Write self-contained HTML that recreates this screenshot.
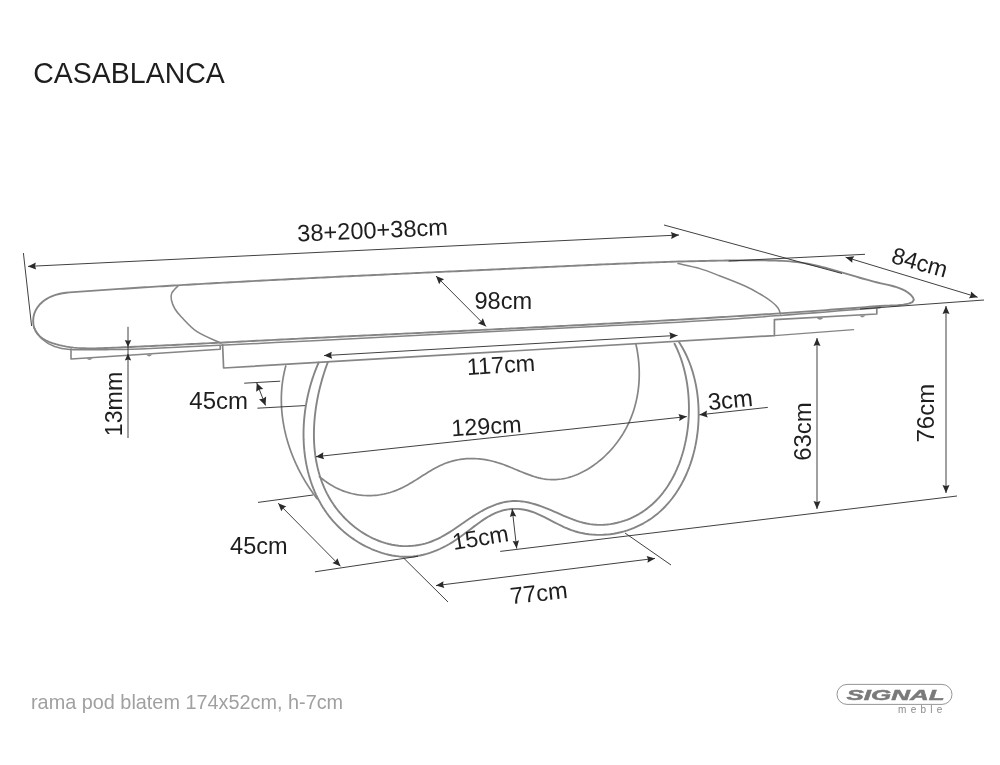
<!DOCTYPE html>
<html><head><meta charset="utf-8"><style>
html,body{margin:0;padding:0;background:#fff;}
svg{display:block;font-family:"Liberation Sans",sans-serif;will-change:transform;}
</style></head><body>
<svg width="1000" height="765" viewBox="0 0 1000 765">
<rect width="1000" height="765" fill="#fff"/>
<path d="M880.01,305.96 L876.43,306.25 L872.85,306.54 L869.27,306.82 L865.70,307.10 L862.12,307.38 L858.54,307.66 L854.96,307.93 L851.38,308.21 L847.81,308.48 L844.23,308.75 L840.65,309.02 L837.07,309.29 L833.49,309.55 L829.91,309.82 L826.33,310.08 L822.75,310.34 L819.17,310.60 L815.59,310.86 L812.01,311.12 L808.43,311.37 L804.85,311.62 L801.27,311.88 L797.69,312.13 L794.11,312.37 L790.53,312.62 L786.95,312.87 L783.37,313.11 L779.79,313.36 L776.21,313.60 L772.63,313.84 L769.05,314.08 L765.47,314.31 L761.89,314.55 L758.30,314.79 L754.72,315.02 L751.14,315.25 L747.56,315.48 L743.98,315.71 L740.40,315.94 L736.81,316.17 L733.23,316.39 L729.65,316.62 L726.07,316.84 L722.48,317.06 L718.90,317.29 L715.32,317.51 L711.74,317.72 L708.15,317.94 L704.57,318.16 L700.99,318.37 L697.40,318.59 L693.82,318.80 L690.24,319.01 L686.66,319.22 L683.07,319.43 L679.49,319.64 L675.91,319.85 L672.32,320.06 L668.74,320.26 L665.15,320.47 L661.57,320.67 L657.99,320.87 L654.40,321.08 L650.82,321.28 L647.23,321.48 L643.65,321.68 L640.07,321.87 L636.48,322.07 L632.90,322.27 L629.31,322.46 L625.73,322.66 L622.15,322.85 L618.56,323.05 L614.98,323.24 L611.39,323.43 L607.81,323.62 L604.22,323.81 L600.64,324.00 L597.05,324.19 L593.47,324.38 L589.88,324.56 L586.30,324.75 L582.71,324.94 L579.13,325.12 L575.54,325.31 L571.96,325.49 L568.37,325.67 L564.79,325.86 L561.20,326.04 L557.62,326.22 L554.03,326.40 L550.45,326.58 L546.86,326.76 L543.28,326.94 L539.69,327.12 L536.11,327.30 L532.52,327.48 L528.94,327.65 L525.35,327.83 L521.76,328.01 L518.18,328.18 L514.59,328.36 L511.01,328.53 L507.42,328.71 L503.84,328.88 L500.25,329.06 L496.67,329.23 L493.08,329.40 L489.50,329.58 L485.91,329.75 L482.32,329.92 L478.74,330.10 L475.15,330.27 L471.57,330.44 L467.98,330.61 L464.40,330.78 L460.81,330.95 L457.23,331.12 L453.64,331.29 L450.06,331.47 L446.47,331.64 L442.88,331.81 L439.30,331.98 L435.71,332.15 L432.13,332.32 L428.54,332.49 L424.96,332.66 L421.37,332.83 L417.79,333.00 L414.20,333.16 L410.62,333.33 L407.03,333.50 L403.45,333.67 L399.86,333.84 L396.28,334.01 L392.69,334.18 L389.11,334.35 L385.52,334.52 L381.94,334.69 L378.35,334.86 L374.77,335.03 L371.18,335.20 L367.60,335.37 L364.01,335.54 L360.43,335.72 L356.84,335.89 L353.26,336.06 L349.67,336.23 L346.09,336.40 L342.50,336.57 L338.92,336.74 L335.34,336.92 L331.75,337.09 L328.17,337.26 L324.58,337.44 L321.00,337.61 L317.41,337.78 L313.83,337.96 L310.25,338.13 L306.66,338.31 L303.08,338.48 L299.49,338.66 L295.91,338.84 L292.33,339.01 L288.74,339.19 L285.16,339.37 L281.58,339.54 L277.99,339.72 L274.41,339.90 L270.83,340.08 L267.24,340.26 L263.66,340.44 L260.08,340.62 L256.49,340.80 L252.91,340.99 L249.33,341.17 L245.74,341.35 L242.16,341.53 L238.58,341.71 L235.00,341.89 L231.41,342.08 L227.83,342.26 L224.24,342.44 L220.66,342.62 L217.08,342.80 L213.49,342.98 L209.91,343.16 L206.33,343.35 L202.74,343.53 L199.16,343.70 L195.57,343.88 L191.99,344.06 L188.40,344.24 L184.82,344.42 L181.23,344.59 L177.64,344.77 L174.06,344.94 L170.47,345.12 L166.88,345.29 L163.30,345.46 L159.71,345.63 L156.12,345.80 L152.53,345.97 L148.94,346.14 L145.35,346.31 L141.76,346.47 L138.17,346.64 L134.58,346.80 L130.99,346.96 L127.40,347.12 L123.81,347.28 L120.22,347.43 L116.62,347.59 L113.03,347.74 L109.44,347.89 L105.84,348.04 L102.25,348.18 L98.66,348.29 L95.06,348.37 L91.47,348.40 L87.89,348.38 L84.30,348.30 L80.73,348.15 L77.15,347.91 L73.58,347.58 L70.02,347.14 L66.46,346.60 L62.92,345.93 L59.38,345.12 L55.84,344.18 L52.34,343.07 L48.91,341.78 L45.65,340.26 L42.62,338.47 L39.89,336.39 L37.53,333.97 L35.62,331.18 L34.23,327.98 L33.41,324.43 L33.15,320.69 L33.48,316.93 L34.39,313.29 L35.88,309.91 L37.85,306.80 L40.23,303.98 L42.94,301.48 L45.90,299.31 L49.02,297.50 L52.26,296.03 L55.58,294.87 L58.98,293.97 L62.45,293.29 L65.96,292.79 L69.52,292.41 L73.10,292.11 L76.69,291.85 L80.28,291.60 L83.86,291.35 L87.45,291.09 L91.04,290.85 L94.63,290.60 L98.22,290.35 L101.81,290.11 L105.39,289.87 L108.98,289.63 L112.57,289.39 L116.15,289.15 L119.74,288.92 L123.32,288.68 L126.91,288.45 L130.49,288.22 L134.08,287.99 L137.66,287.76 L141.25,287.53 L144.83,287.31 L148.42,287.08 L152.00,286.86 L155.59,286.64 L159.17,286.42 L162.75,286.20 L166.34,285.98 L169.92,285.77 L173.50,285.55 L177.09,285.34 L180.67,285.13 L184.25,284.92 L187.83,284.71 L191.42,284.50 L195.00,284.29 L198.58,284.08 L202.16,283.88 L205.75,283.67 L209.33,283.47 L212.91,283.27 L216.49,283.07 L220.07,282.87 L223.66,282.67 L227.24,282.47 L230.82,282.28 L234.40,282.08 L237.99,281.89 L241.57,281.69 L245.15,281.50 L248.73,281.31 L252.31,281.11 L255.90,280.92 L259.48,280.73 L263.06,280.55 L266.64,280.36 L270.23,280.17 L273.81,279.98 L277.39,279.80 L280.98,279.61 L284.56,279.43 L288.14,279.25 L291.73,279.06 L295.31,278.88 L298.89,278.70 L302.48,278.52 L306.06,278.34 L309.65,278.16 L313.23,277.98 L316.81,277.80 L320.40,277.62 L323.98,277.45 L327.57,277.27 L331.15,277.09 L334.74,276.92 L338.32,276.74 L341.91,276.57 L345.49,276.40 L349.08,276.22 L352.66,276.05 L356.25,275.88 L359.83,275.70 L363.42,275.53 L367.00,275.36 L370.59,275.19 L374.17,275.02 L377.76,274.85 L381.34,274.68 L384.93,274.51 L388.52,274.34 L392.10,274.17 L395.69,274.01 L399.27,273.84 L402.86,273.67 L406.45,273.50 L410.03,273.33 L413.62,273.17 L417.20,273.00 L420.79,272.83 L424.38,272.67 L427.96,272.50 L431.55,272.34 L435.13,272.17 L438.72,272.01 L442.31,271.84 L445.89,271.67 L449.48,271.51 L453.06,271.34 L456.65,271.18 L460.24,271.01 L463.82,270.85 L467.41,270.69 L471.00,270.52 L474.58,270.36 L478.17,270.19 L481.75,270.03 L485.34,269.86 L488.93,269.70 L492.51,269.53 L496.10,269.37 L499.68,269.20 L503.27,269.04 L506.86,268.87 L510.44,268.71 L514.03,268.54 L517.61,268.38 L521.20,268.21 L524.79,268.05 L528.37,267.88 L531.96,267.72 L535.54,267.55 L539.13,267.38 L542.71,267.22 L546.30,267.05 L549.88,266.88 L553.47,266.72 L557.06,266.55 L560.64,266.38 L564.23,266.21 L567.81,266.05 L571.40,265.88 L574.98,265.71 L578.57,265.55 L582.15,265.38 L585.74,265.22 L589.32,265.06 L592.91,264.89 L596.49,264.73 L600.08,264.57 L603.66,264.41 L607.25,264.25 L610.83,264.10 L614.42,263.94 L618.00,263.79 L621.59,263.64 L625.17,263.49 L628.76,263.34 L632.35,263.20 L635.93,263.06 L639.52,262.92 L643.10,262.78 L646.69,262.64 L650.28,262.51 L653.86,262.38 L657.45,262.26 L661.04,262.13 L664.62,262.01 L668.21,261.90 L671.80,261.78 L675.38,261.67 L678.97,261.57 L682.56,261.46 L686.15,261.37 L689.73,261.27 L693.32,261.18 L696.91,261.09 L700.50,261.01 L704.09,260.93 L707.68,260.86 L711.27,260.79 L714.86,260.73 L718.45,260.67 L722.04,260.61 L725.63,260.57 L729.22,260.52 L732.81,260.48 L736.40,260.45 L739.99,260.42 L743.58,260.40 L747.18,260.38 L750.77,260.37 L754.36,260.37 L757.95,260.37 L761.55,260.38 L765.14,260.39 L768.73,260.43 L772.32,260.48 L775.91,260.57 L779.49,260.69 L783.06,260.86 L786.62,261.08 L790.18,261.35 L793.72,261.69 L797.25,262.10 L800.77,262.59 L804.28,263.15 L807.78,263.77 L811.27,264.46 L814.75,265.20 L818.22,266.00 L821.68,266.84 L825.15,267.73 L828.61,268.65 L832.06,269.60 L835.52,270.58 L838.98,271.58 L842.44,272.59 L845.90,273.62 L849.36,274.65 L852.84,275.68 L856.31,276.71 L859.80,277.72 L863.30,278.72 L866.80,279.71 L870.32,280.66 L873.85,281.59 L877.40,282.48 L880.96,283.33 L884.53,284.14 L888.10,284.94 L891.65,285.77 L895.13,286.71 L898.52,287.79 L901.79,289.08 L904.92,290.63 L907.87,292.50 L910.61,294.73 L912.90,297.29 L913.86,299.84 L912.50,302.01 L908.63,303.58 L903.29,304.63 L897.61,305.24 L892.74,305.52 L889.82,305.54 L889.99,305.39 Z" fill="none" stroke="#858585" stroke-width="1.9" stroke-linejoin="round" stroke-linecap="round"/>
<path d="M34,327.8 C35.33,329.67 38.67,335.93 42,339 C45.33,342.07 49.33,344.47 54,346.2 C58.67,347.93 60.67,348.83 70,349.4 C79.33,349.97 96.67,349.73 110,349.6 C123.33,349.47 122.5,349.77 150,348.6 C177.5,347.43 233.33,344.67 275,342.6 C316.67,340.53 345.83,338.93 400,336.2 C454.17,333.47 543.33,329.17 600,326.2 C656.67,323.23 693.33,321.47 740,318.4 C786.67,315.33 856.67,309.57 880,307.8" fill="none" stroke="#858585" stroke-width="1.5" stroke-linejoin="round" stroke-linecap="round"/>
<path d="M178.2,285.7 C177.13,286.92 172.93,290.62 171.8,293 C170.67,295.38 170.87,297.33 171.4,300 C171.93,302.67 173.33,306.17 175,309 C176.67,311.83 177.73,313.22 181.4,317 C185.07,320.78 190.4,327.33 197,331.7 C203.6,336.07 217,341.28 221,343.2" fill="none" stroke="#858585" stroke-width="1.5" stroke-linejoin="round" stroke-linecap="round"/>
<path d="M678,263.5 C681.67,264.35 693,266.52 700,268.6 C707,270.68 712.5,273.1 720,276 C727.5,278.9 738.33,283 745,286 C751.67,289 755.5,291.33 760,294 C764.5,296.67 769,299.67 772,302 C775,304.33 776.58,306 778,308 C779.42,310 780.08,313 780.5,314" fill="none" stroke="#858585" stroke-width="1.5" stroke-linejoin="round" stroke-linecap="round"/>
<path d="M71,348.8 L71,359 L220.2,349.3 L220.2,345.7" fill="none" stroke="#858585" stroke-width="1.6" stroke-linejoin="round" stroke-linecap="round"/>
<path d="M222.6,344.6 L223.6,368 L774.4,335.6 L774.4,319.6 L876.8,314 L876.8,308.8" fill="none" stroke="#858585" stroke-width="1.7" stroke-linejoin="round" stroke-linecap="round"/>
<path d="M774.4,335.6 L853.6,329.7" fill="none" stroke="#858585" stroke-width="1.2" stroke-linejoin="round" stroke-linecap="round"/>
<path d="M86.3,358.2 Q89.5,361.8 92.7,358.2 Z" fill="#8a8a8a"/>
<path d="M146.0,354.6 Q149.2,358.20000000000005 152.39999999999998,354.6 Z" fill="#8a8a8a"/>
<path d="M816.8,318.0 Q820,321.6 823.2,318.0 Z" fill="#8a8a8a"/>
<path d="M859.1999999999999,315.6 Q862.4,319.20000000000005 865.6,315.6 Z" fill="#8a8a8a"/>
<path d="M318.62,362.57 L317.24,365.80 L315.91,369.07 L314.65,372.37 L313.46,375.72 L312.32,379.10 L311.25,382.51 L310.25,385.96 L309.31,389.43 L308.44,392.93 L307.64,396.45 L306.90,399.99 L306.24,403.55 L305.65,407.13 L305.12,410.72 L304.67,414.32 L304.30,417.94 L303.99,421.55 L303.76,425.18 L303.61,428.80 L303.53,432.42 L303.53,436.04 L303.61,439.66 L303.77,443.27 L304.00,446.86 L304.32,450.45 L304.72,454.02 L305.20,457.57 L305.76,461.10 L306.41,464.61 L307.14,468.10 L307.95,471.56 L308.86,474.99 L309.85,478.38 L310.92,481.75 L312.09,485.08 L313.35,488.36 L314.69,491.61 L316.13,494.82 L317.66,497.97 L319.29,501.08 L321.00,504.14 L322.81,507.15 L324.72,510.10 L326.72,512.99 L328.82,515.82 L331.02,518.59 L333.32,521.29 L335.72,523.92 L338.21,526.49 L340.81,528.98 L343.51,531.40 L346.31,533.74 L349.19,535.99 L352.16,538.16 L355.21,540.23 L358.33,542.20 L361.52,544.07 L364.76,545.83 L368.06,547.48 L371.41,549.01 L374.80,550.42 L378.22,551.70 L381.67,552.84 L385.15,553.86 L388.64,554.72 L392.14,555.45 L395.65,556.02 L399.16,556.43 L402.66,556.68 L406.14,556.77 L409.61,556.69 L413.06,556.44 L416.48,556.03 L419.89,555.46 L423.27,554.74 L426.63,553.88 L429.96,552.86 L433.27,551.71 L436.55,550.42 L439.81,549.00 L443.03,547.45 L446.23,545.78 L449.40,543.98 L452.54,542.08 L455.65,540.06 L458.73,537.94 L461.78,535.74 L464.81,533.49 L467.82,531.20 L470.83,528.90 L473.83,526.63 L476.83,524.39 L479.84,522.21 L482.86,520.12 L485.90,518.15 L488.96,516.31 L492.05,514.63 L495.17,513.13 L498.33,511.85 L501.53,510.78 L504.77,509.95 L508.03,509.35 L511.33,508.98 L514.64,508.83 L517.96,508.92 L521.29,509.23 L524.63,509.76 L527.95,510.52 L531.26,511.51 L534.57,512.70 L537.86,514.06 L541.16,515.56 L544.45,517.16 L547.75,518.84 L551.05,520.57 L554.37,522.31 L557.71,524.03 L561.06,525.69 L564.44,527.28 L567.85,528.74 L571.29,530.07 L574.76,531.22 L578.26,532.22 L581.78,533.05 L585.32,533.72 L588.88,534.24 L592.44,534.60 L596.01,534.82 L599.57,534.88 L603.13,534.80 L606.67,534.57 L610.20,534.20 L613.71,533.70 L617.19,533.05 L620.64,532.28 L624.06,531.37 L627.44,530.33 L630.76,529.17 L634.04,527.88 L637.27,526.47 L640.43,524.94 L643.53,523.29 L646.56,521.53 L649.51,519.66 L652.38,517.68 L655.17,515.59 L657.87,513.40 L660.49,511.11 L663.01,508.72 L665.46,506.23 L667.81,503.66 L670.08,501.00 L672.26,498.26 L674.35,495.44 L676.36,492.54 L678.28,489.57 L680.11,486.53 L681.86,483.43 L683.52,480.26 L685.09,477.03 L686.58,473.75 L687.98,470.42 L689.30,467.04 L690.52,463.61 L691.66,460.14 L692.72,456.64 L693.69,453.10 L694.57,449.53 L695.36,445.93 L696.07,442.30 L696.69,438.66 L697.23,435.00 L697.68,431.32 L698.04,427.64 L698.32,423.95 L698.51,420.25 L698.61,416.56 L698.63,412.86 L698.56,409.18 L698.41,405.50 L698.16,401.84 L697.84,398.20 L697.42,394.58 L696.92,390.98 L696.34,387.41 L695.66,383.87 L694.90,380.37 L694.06,376.90 L693.13,373.48 L692.11,370.10 L691.01,366.77 L689.82,363.49 L688.54,360.27 L687.18,357.10 L685.74,354.00 L684.20,350.97 L682.58,348.00 L680.88,345.11 L679.09,342.29" fill="none" stroke="#858585" stroke-width="1.9" stroke-linejoin="round" stroke-linecap="round"/>
<path d="M327.92,361.90 L326.78,364.98 L325.67,368.09 L324.60,371.25 L323.58,374.43 L322.60,377.65 L321.66,380.89 L320.77,384.17 L319.92,387.47 L319.13,390.79 L318.38,394.13 L317.69,397.49 L317.05,400.86 L316.46,404.25 L315.93,407.65 L315.46,411.07 L315.05,414.49 L314.70,417.91 L314.41,421.34 L314.19,424.78 L314.03,428.21 L313.94,431.64 L313.91,435.06 L313.96,438.48 L314.08,441.89 L314.28,445.29 L314.54,448.68 L314.89,452.05 L315.31,455.41 L315.81,458.74 L316.40,462.06 L317.06,465.35 L317.81,468.62 L318.65,471.85 L319.57,475.06 L320.59,478.24 L321.69,481.39 L322.88,484.49 L324.17,487.57 L325.55,490.60 L327.03,493.59 L328.61,496.53 L330.29,499.43 L332.07,502.28 L333.95,505.08 L335.93,507.83 L338.02,510.52 L340.21,513.15 L342.50,515.72 L344.88,518.22 L347.35,520.65 L349.90,522.99 L352.53,525.25 L355.24,527.42 L358.02,529.50 L360.86,531.48 L363.77,533.35 L366.74,535.12 L369.76,536.77 L372.83,538.31 L375.95,539.72 L379.11,541.00 L382.31,542.15 L385.54,543.16 L388.80,544.02 L392.08,544.74 L395.39,545.31 L398.71,545.73 L402.03,546.00 L405.37,546.11 L408.69,546.07 L412.02,545.88 L415.33,545.54 L418.62,545.04 L421.88,544.39 L425.12,543.58 L428.32,542.62 L431.48,541.50 L434.60,540.23 L437.68,538.82 L440.72,537.28 L443.72,535.64 L446.70,533.89 L449.65,532.07 L452.59,530.18 L455.50,528.24 L458.41,526.27 L461.31,524.28 L464.20,522.28 L467.10,520.29 L470.00,518.33 L472.92,516.41 L475.84,514.54 L478.79,512.75 L481.76,511.04 L484.75,509.43 L487.77,507.93 L490.81,506.55 L493.87,505.30 L496.95,504.18 L500.05,503.22 L503.17,502.42 L506.30,501.78 L509.45,501.33 L512.61,501.06 L515.78,500.99 L518.95,501.12 L522.14,501.43 L525.33,501.91 L528.53,502.54 L531.73,503.32 L534.93,504.23 L538.14,505.25 L541.35,506.37 L544.55,507.57 L547.76,508.85 L550.96,510.18 L554.15,511.56 L557.35,512.96 L560.55,514.37 L563.76,515.76 L566.98,517.11 L570.21,518.42 L573.45,519.65 L576.71,520.80 L579.99,521.84 L583.30,522.75 L586.62,523.52 L589.98,524.12 L593.37,524.55 L596.78,524.79 L600.21,524.86 L603.64,524.76 L607.06,524.49 L610.48,524.07 L613.86,523.50 L617.21,522.78 L620.52,521.91 L623.78,520.91 L626.97,519.78 L630.09,518.53 L633.12,517.15 L636.08,515.66 L638.95,514.06 L641.74,512.35 L644.44,510.53 L647.06,508.61 L649.60,506.59 L652.06,504.47 L654.44,502.26 L656.73,499.96 L658.95,497.57 L661.08,495.10 L663.13,492.55 L665.10,489.92 L666.99,487.22 L668.80,484.44 L670.53,481.60 L672.18,478.70 L673.76,475.73 L675.25,472.71 L676.66,469.63 L678.00,466.49 L679.26,463.32 L680.44,460.09 L681.54,456.82 L682.56,453.52 L683.51,450.18 L684.38,446.80 L685.17,443.40 L685.89,439.97 L686.53,436.52 L687.10,433.05 L687.59,429.57 L688.00,426.07 L688.34,422.56 L688.60,419.04 L688.79,415.52 L688.90,412.00 L688.94,408.49 L688.91,404.98 L688.80,401.48 L688.62,397.99 L688.36,394.51 L688.04,391.06 L687.63,387.63 L687.16,384.22 L686.62,380.85 L686.00,377.50 L685.31,374.19 L684.55,370.92 L683.72,367.69 L682.82,364.50 L681.84,361.37 L680.80,358.28 L679.68,355.25 L678.50,352.27 L677.25,349.36 L675.92,346.51 L674.53,343.73" fill="none" stroke="#858585" stroke-width="1.9" stroke-linejoin="round" stroke-linecap="round"/>
<path d="M285.79,365.99 L285.60,366.68 L285.41,367.38 L285.23,368.07 L285.06,368.77 L284.88,369.47 L284.72,370.17 L284.55,370.86 L284.39,371.56 L284.24,372.26 L284.09,372.96 L283.94,373.66 L283.80,374.36 L283.66,375.06 L283.53,375.77 L283.40,376.47 L283.27,377.17 L283.15,377.87 L283.03,378.58 L282.92,379.28 L282.81,379.98 L282.70,380.69 L282.60,381.39 L282.50,382.10 L282.41,382.80 L282.32,383.51 L282.23,384.21 L282.15,384.92 L282.07,385.63 L282.00,386.33 L281.93,387.04 L281.86,387.75 L281.80,388.45 L281.74,389.16 L281.69,389.87 L281.64,390.58 L281.59,391.28 L281.55,391.99 L281.51,392.70 L281.48,393.41 L281.45,394.12 L281.42,394.82 L281.40,395.53 L281.38,396.24 L281.36,396.95 L281.35,397.66 L281.34,398.37 L281.34,399.07 L281.33,399.78 L281.34,400.49 L281.34,401.20 L281.35,401.91 L281.37,402.62 L281.39,403.32 L281.41,404.03 L281.43,404.74 L281.46,405.45 L281.49,406.15 L281.53,406.86 L281.57,407.57 L281.61,408.28 L281.66,408.98 L281.71,409.69 L281.76,410.40 L281.82,411.10 L281.88,411.81 L281.95,412.51 L282.01,413.22 L282.08,413.92 L282.16,414.63 L282.24,415.33 L282.32,416.04 L282.40,416.74 L282.49,417.44 L282.59,418.15 L282.68,418.85 L282.78,419.55 L282.88,420.25 L282.99,420.96 L283.10,421.66 L283.21,422.36 L283.33,423.06 L283.44,423.76 L283.57,424.46 L283.69,425.16 L283.82,425.85 L283.95,426.55 L284.09,427.25 L284.23,427.95 L284.37,428.64 L284.52,429.34 L284.66,430.03 L284.82,430.73 L284.97,431.42 L285.13,432.11 L285.29,432.81 L285.46,433.50 L285.62,434.19 L285.79,434.88 L285.97,435.57 L286.14,436.26 L286.33,436.95 L286.51,437.63 L286.69,438.32 L286.88,439.01 L287.08,439.69 L287.27,440.38 L287.47,441.06 L287.67,441.74 L287.88,442.43 L288.09,443.11 L288.30,443.79 L288.51,444.47 L288.73,445.15 L288.95,445.82 L289.17,446.50 L289.39,447.18 L289.62,447.85 L289.85,448.53 L290.09,449.20 L290.32,449.87 L290.56,450.54 L290.81,451.21 L291.05,451.88 L291.30,452.55 L291.55,453.22 L291.81,453.88 L292.06,454.55 L292.32,455.21 L292.59,455.88 L292.85,456.54 L293.12,457.20 L293.39,457.86 L293.66,458.52 L293.94,459.17 L294.22,459.83 L294.50,460.49 L294.79,461.14 L295.07,461.79 L295.36,462.44 L295.65,463.09 L295.95,463.74 L296.25,464.39 L296.55,465.04 L296.85,465.68 L297.16,466.33 L297.46,466.97 L297.77,467.61 L298.09,468.25 L298.40,468.89 L298.72,469.53 L299.04,470.16 L299.37,470.80 L299.69,471.43 L300.02,472.06 L300.35,472.69 L300.68,473.32 L301.02,473.95 L301.36,474.57 L301.70,475.20 L302.04,475.82 L302.39,476.44 L302.73,477.06 L303.08,477.68 L303.44,478.30 L303.79,478.91 L304.15,479.53 L304.51,480.14 L304.87,480.75 L305.24,481.36 L305.60,481.96 L305.97,482.57 L306.34,483.17 L306.71,483.78 L307.09,484.38 L307.47,484.98 L307.85,485.57 L308.23,486.17 L308.62,486.76 L309.00,487.35 L309.39,487.94 L309.78,488.53 L310.18,489.12 L310.57,489.71 L310.97,490.29 L311.37,490.87 L311.77,491.45 L312.17,492.03 L312.58,492.60 L312.99,493.18 L313.40,493.75 L313.81,494.32 L314.22,494.89 L314.64,495.45 L315.06,496.02 L315.48,496.58 L315.90,497.14 L316.32,497.70 L316.75,498.26 L317.18,498.81" fill="none" stroke="#858585" stroke-width="1.7" stroke-linejoin="round" stroke-linecap="round"/>
<path d="M319.49,476.54 L321.28,478.07 L323.09,479.52 L324.93,480.92 L326.79,482.25 L328.68,483.51 L330.58,484.71 L332.51,485.85 L334.46,486.92 L336.42,487.93 L338.40,488.88 L340.40,489.76 L342.41,490.59 L344.43,491.34 L346.47,492.04 L348.51,492.67 L350.57,493.24 L352.64,493.75 L354.72,494.20 L356.80,494.58 L358.89,494.90 L360.98,495.17 L363.08,495.36 L365.18,495.50 L367.28,495.58 L369.38,495.60 L371.48,495.55 L373.58,495.45 L375.68,495.28 L377.77,495.06 L379.86,494.77 L381.94,494.43 L384.01,494.02 L386.08,493.55 L388.14,493.03 L390.18,492.45 L392.22,491.80 L394.24,491.10 L396.25,490.34 L398.24,489.52 L400.22,488.64 L402.19,487.71 L404.14,486.73 L406.07,485.70 L408.00,484.64 L409.92,483.54 L411.83,482.41 L413.73,481.27 L415.62,480.10 L417.51,478.92 L419.40,477.73 L421.29,476.53 L423.17,475.34 L425.06,474.16 L426.94,472.99 L428.83,471.83 L430.72,470.70 L432.62,469.59 L434.53,468.52 L436.44,467.49 L438.36,466.50 L440.30,465.55 L442.24,464.66 L444.20,463.83 L446.17,463.06 L448.16,462.35 L450.16,461.70 L452.17,461.12 L454.19,460.60 L456.22,460.14 L458.27,459.73 L460.32,459.39 L462.38,459.11 L464.45,458.89 L466.52,458.72 L468.60,458.61 L470.69,458.56 L472.78,458.56 L474.87,458.61 L476.97,458.73 L479.06,458.89 L481.16,459.11 L483.26,459.38 L485.36,459.70 L487.46,460.08 L489.56,460.50 L491.65,460.98 L493.74,461.50 L495.82,462.07 L497.90,462.69 L499.98,463.36 L502.04,464.07 L504.11,464.82 L506.17,465.60 L508.22,466.40 L510.27,467.23 L512.32,468.07 L514.36,468.92 L516.40,469.77 L518.44,470.63 L520.48,471.47 L522.52,472.30 L524.56,473.12 L526.60,473.91 L528.64,474.67 L530.68,475.40 L532.72,476.09 L534.77,476.73 L536.81,477.32 L538.86,477.85 L540.92,478.32 L542.98,478.72 L545.04,479.05 L547.11,479.31 L549.18,479.49 L551.25,479.60 L553.33,479.63 L555.40,479.58 L557.48,479.46 L559.55,479.27 L561.62,479.00 L563.69,478.65 L565.75,478.23 L567.80,477.74 L569.85,477.17 L571.89,476.53 L573.92,475.82 L575.94,475.05 L577.95,474.22 L579.94,473.32 L581.91,472.36 L583.87,471.35 L585.81,470.28 L587.73,469.16 L589.62,467.98 L591.50,466.76 L593.35,465.49 L595.17,464.18 L596.97,462.83 L598.73,461.43 L600.47,460.00 L602.17,458.53 L603.84,457.03 L605.48,455.50 L607.08,453.94 L608.64,452.35 L610.17,450.73 L611.65,449.10 L613.09,447.44 L614.50,445.75 L615.86,444.05 L617.19,442.32 L618.47,440.57 L619.72,438.81 L620.92,437.02 L622.09,435.21 L623.22,433.39 L624.31,431.54 L625.36,429.68 L626.37,427.80 L627.34,425.90 L628.27,423.99 L629.17,422.06 L630.02,420.11 L630.84,418.15 L631.62,416.18 L632.36,414.19 L633.06,412.19 L633.72,410.17 L634.35,408.15 L634.94,406.11 L635.49,404.05 L636.00,401.99 L636.47,399.92 L636.91,397.83 L637.31,395.74 L637.67,393.64 L638.00,391.53 L638.28,389.41 L638.53,387.28 L638.75,385.15 L638.92,383.01 L639.06,380.86 L639.16,378.71 L639.23,376.55 L639.26,374.39 L639.25,372.22 L639.20,370.05 L639.12,367.88 L639.00,365.70 L638.85,363.52 L638.66,361.34 L638.43,359.16 L638.17,356.97 L637.87,354.79 L637.54,352.61 L637.17,350.42 L636.77,348.24 L636.33,346.06 L635.85,343.89" fill="none" stroke="#858585" stroke-width="1.7" stroke-linejoin="round" stroke-linecap="round"/>
<line x1="23.4" y1="253" x2="31.6" y2="326" stroke="#2a2a2a" stroke-width="0.9"/>
<line x1="28" y1="266.4" x2="679" y2="235" stroke="#2a2a2a" stroke-width="0.9"/>
<path d="M679,235 L671.18,238.88 L671.97,235.34 L670.84,231.89 Z" fill="#2a2a2a"/>
<path d="M28,266.4 L35.82,262.52 L35.03,266.06 L36.16,269.51 Z" fill="#2a2a2a"/>
<line x1="664" y1="225" x2="842" y2="273.5" stroke="#2a2a2a" stroke-width="0.9"/>
<line x1="728.6" y1="261" x2="865" y2="254.3" stroke="#2a2a2a" stroke-width="0.9"/>
<line x1="845.6" y1="257.2" x2="977.6" y2="297.2" stroke="#2a2a2a" stroke-width="0.9"/>
<path d="M977.6,297.2 L968.93,298.23 L970.86,295.16 L970.96,291.53 Z" fill="#2a2a2a"/>
<path d="M845.6,257.2 L854.27,256.17 L852.34,259.24 L852.24,262.87 Z" fill="#2a2a2a"/>
<line x1="860" y1="309" x2="984" y2="300" stroke="#2a2a2a" stroke-width="0.9"/>
<line x1="128" y1="326.8" x2="128" y2="438" stroke="#2a2a2a" stroke-width="0.9"/>
<path d="M128,347 L124.8,340 L128,340.84 L131.2,340 Z" fill="#2a2a2a"/>
<path d="M128,353.4 L131.2,360.4 L128,359.56 L124.8,360.4 Z" fill="#2a2a2a"/>
<line x1="436" y1="276" x2="486" y2="326.4" stroke="#2a2a2a" stroke-width="0.9"/>
<path d="M486,326.4 L477.88,323.19 L481.04,321.4 L482.85,318.26 Z" fill="#2a2a2a"/>
<path d="M436,276 L444.12,279.21 L440.96,281 L439.15,284.14 Z" fill="#2a2a2a"/>
<line x1="324" y1="355.6" x2="677.5" y2="335.4" stroke="#2a2a2a" stroke-width="0.9"/>
<path d="M677.5,335.4 L669.71,339.35 L670.47,335.8 L669.31,332.36 Z" fill="#2a2a2a"/>
<path d="M324,355.6 L331.79,351.65 L331.03,355.2 L332.19,358.64 Z" fill="#2a2a2a"/>
<line x1="244.2" y1="383.2" x2="280.2" y2="381.2" stroke="#2a2a2a" stroke-width="0.9"/>
<line x1="257.4" y1="408.2" x2="305" y2="405.6" stroke="#2a2a2a" stroke-width="0.9"/>
<line x1="256.8" y1="383" x2="265.5" y2="405.4" stroke="#2a2a2a" stroke-width="0.9"/>
<path d="M265.5,405.4 L259.06,399.32 L262.95,398.84 L266.15,396.57 Z" fill="#2a2a2a"/>
<path d="M256.8,383 L263.24,389.08 L259.35,389.56 L256.15,391.83 Z" fill="#2a2a2a"/>
<line x1="315.8" y1="456.7" x2="686.8" y2="416.6" stroke="#2a2a2a" stroke-width="0.9"/>
<path d="M315.8,456.7 L323.38,452.36 L322.8,455.94 L324.13,459.32 Z" fill="#2a2a2a"/>
<path d="M686.8,416.6 L679.22,420.94 L679.8,417.36 L678.47,413.98 Z" fill="#2a2a2a"/>
<line x1="699.4" y1="414.8" x2="767.8" y2="407.4" stroke="#2a2a2a" stroke-width="0.9"/>
<path d="M699.4,414.8 L706.98,410.46 L706.4,414.04 L707.73,417.42 Z" fill="#2a2a2a"/>
<line x1="817" y1="338" x2="817" y2="509" stroke="#2a2a2a" stroke-width="0.9"/>
<path d="M817,509 L813.5,501 L817,501.96 L820.5,501 Z" fill="#2a2a2a"/>
<path d="M817,338 L820.5,346 L817,345.04 L813.5,346 Z" fill="#2a2a2a"/>
<line x1="946" y1="306" x2="946" y2="493" stroke="#2a2a2a" stroke-width="0.9"/>
<path d="M946,493 L942.5,485 L946,485.96 L949.5,485 Z" fill="#2a2a2a"/>
<path d="M946,306 L949.5,314 L946,313.04 L942.5,314 Z" fill="#2a2a2a"/>
<line x1="500.2" y1="551.4" x2="957" y2="496" stroke="#2a2a2a" stroke-width="0.9"/>
<line x1="258" y1="502.4" x2="313" y2="495" stroke="#2a2a2a" stroke-width="0.9"/>
<line x1="315" y1="571.8" x2="418" y2="556.3" stroke="#2a2a2a" stroke-width="0.9"/>
<line x1="278.2" y1="503.2" x2="340.5" y2="566.3" stroke="#2a2a2a" stroke-width="0.9"/>
<path d="M340.5,566.3 L332.39,563.07 L335.55,561.29 L337.37,558.15 Z" fill="#2a2a2a"/>
<path d="M278.2,503.2 L286.31,506.43 L283.15,508.21 L281.33,511.35 Z" fill="#2a2a2a"/>
<line x1="512.2" y1="508.8" x2="516.7" y2="548.6" stroke="#2a2a2a" stroke-width="0.9"/>
<path d="M516.7,548.6 L512.62,541.01 L515.91,541.6 L518.98,540.29 Z" fill="#2a2a2a"/>
<path d="M512.2,508.8 L516.28,516.39 L512.99,515.8 L509.92,517.11 Z" fill="#2a2a2a"/>
<line x1="403.6" y1="558" x2="448" y2="602" stroke="#2a2a2a" stroke-width="0.9"/>
<line x1="625" y1="533" x2="671" y2="565" stroke="#2a2a2a" stroke-width="0.9"/>
<line x1="436" y1="585.6" x2="655" y2="558.4" stroke="#2a2a2a" stroke-width="0.9"/>
<path d="M655,558.4 L647.49,562.86 L648.01,559.27 L646.63,555.91 Z" fill="#2a2a2a"/>
<path d="M436,585.6 L443.51,581.14 L442.99,584.73 L444.37,588.09 Z" fill="#2a2a2a"/>
<text transform="translate(33.2,82.6) scale(0.95,1)" font-size="30" fill="#1e1e1e">CASABLANCA</text>
<text transform="translate(372.9,238.25) rotate(-2.5)" text-anchor="middle" font-size="23.6" fill="#1e1e1e" >38+200+38cm</text>
<text transform="translate(503.3,308.5) rotate(0)" text-anchor="middle" font-size="23.6" fill="#1e1e1e" >98cm</text>
<text transform="translate(501.35,372.95) rotate(-3.3)" text-anchor="middle" font-size="23.4" fill="#1e1e1e" >117cm</text>
<text transform="translate(486.85,434.15) rotate(-3.4)" text-anchor="middle" font-size="23.4" fill="#1e1e1e" >129cm</text>
<text transform="translate(218.7,409.4) rotate(0)" text-anchor="middle" font-size="24" fill="#1e1e1e" >45cm</text>
<text transform="translate(731,408) rotate(-5.7)" text-anchor="middle" font-size="23.8" fill="#1e1e1e" >3cm</text>
<text transform="translate(122.2,404) rotate(-90)" text-anchor="middle" font-size="23.2" fill="#1e1e1e" >13mm</text>
<text transform="translate(810.6,431.5) rotate(-90)" text-anchor="middle" font-size="24" fill="#1e1e1e" >63cm</text>
<text transform="translate(934.3,413.2) rotate(-90)" text-anchor="middle" font-size="24" fill="#1e1e1e" >76cm</text>
<text transform="translate(258.8,554.4) rotate(0)" text-anchor="middle" font-size="23.5" fill="#1e1e1e" >45cm</text>
<text transform="translate(481.65,545.55) rotate(-9.2)" text-anchor="middle" font-size="23.2" fill="#1e1e1e" >15cm</text>
<text transform="translate(539.7,601.1) rotate(-6.2)" text-anchor="middle" font-size="23.6" fill="#1e1e1e" >77cm</text>
<text transform="translate(917.6,270.1) rotate(15.6)" text-anchor="middle" font-size="23.3" fill="#1e1e1e" >84cm</text>
<text transform="translate(31,709.3) rotate(0)" text-anchor="start" font-size="19.85" fill="#a0a0a0" >rama pod blatem 174x52cm, h-7cm</text>
<rect x="837" y="684.4" width="115" height="20" rx="10" ry="10" fill="none" stroke="#8a8a8a" stroke-width="0.9"/>
<text x="895.5" y="700.4" text-anchor="middle" font-size="15.5" font-weight="bold" font-style="italic" fill="#7a7a7a" stroke="#7a7a7a" stroke-width="0.5" textLength="98" lengthAdjust="spacingAndGlyphs">SIGNAL</text>
<text x="898" y="713" font-size="10" fill="#8a8a8a" letter-spacing="4.3">meble</text>
</svg></body></html>
